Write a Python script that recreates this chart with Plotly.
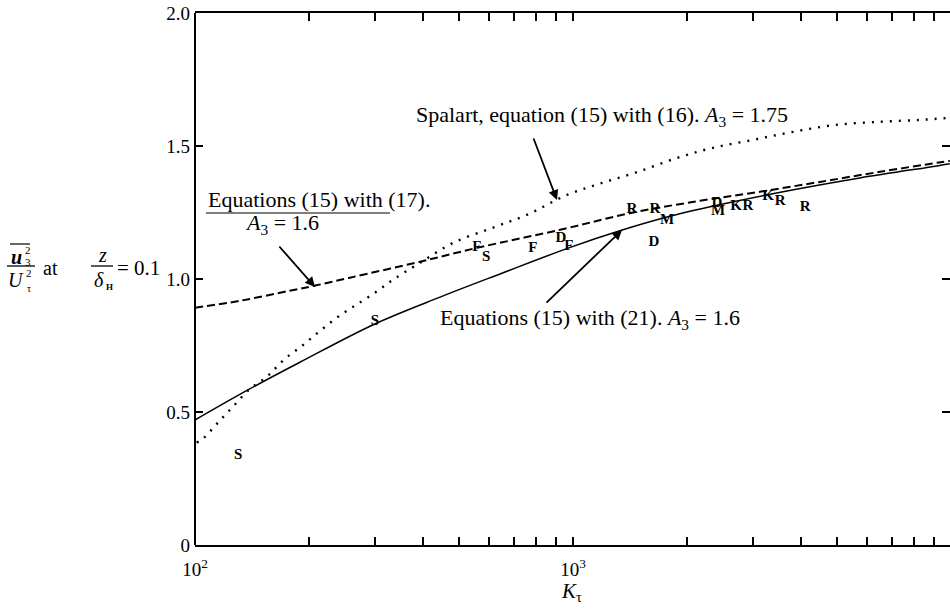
import plotly.graph_objects as go

FONT = "Liberation Serif"

# ---- data (K_tau, value) ----
solid_K = [100, 138, 190, 299, 445, 641, 975, 1349, 1774, 2421, 3681, 5741, 9183, 9931]
solid_y = [0.470, 0.583, 0.688, 0.831, 0.932, 1.019, 1.117, 1.184, 1.233, 1.278, 1.331, 1.380, 1.425, 1.433]

dashed_K = [100, 131.5, 178, 207.5, 257, 394, 557, 925, 1432, 2168, 3123, 4498, 6486, 9183, 9931]
dashed_y = [0.892, 0.918, 0.956, 0.975, 1.005, 1.065, 1.117, 1.185, 1.249, 1.294, 1.328, 1.365, 1.403, 1.437, 1.444]

dotted_K = [101, 105, 115, 126, 139, 155, 172, 192, 213, 239, 267, 299, 334, 394, 482, 611, 755,
            964, 1194, 1486, 1884, 2344, 2992, 3819, 4932, 6486, 8279, 9931]
dotted_y = [0.385, 0.400, 0.460, 0.520, 0.584, 0.633, 0.697, 0.749, 0.802, 0.858, 0.903, 0.948, 0.997,
            1.061, 1.136, 1.192, 1.241, 1.316, 1.361, 1.403, 1.455, 1.493, 1.523, 1.553, 1.579, 1.591,
            1.598, 1.606]

point_labels = ["S", "S", "F", "S", "F", "D", "F", "R", "R", "M", "D", "D", "M", "K", "R", "K", "R", "R"]
point_K = [130, 299, 557, 589, 783, 929, 975, 1432, 1648, 1774, 1637, 2404, 2420, 2700, 2904, 3281, 3530, 4113]
point_y = [0.338, 0.842, 1.120, 1.083, 1.117, 1.154, 1.124, 1.263, 1.263, 1.222, 1.139, 1.286, 1.256,
           1.274, 1.274, 1.312, 1.293, 1.271]

x_tick_vals = [100, 1000]
x_tick_text = ["10<sup>2</sup>", "10<sup>3</sup>"]
x_minor_vals = [200, 300, 400, 500, 600, 700, 800, 900, 2000, 3000, 4000, 5000, 6000, 7000, 8000, 9000]
y_tick_vals = [0, 0.5, 1.0, 1.5, 2.0]
y_tick_text = ["0", "0.5", "1.0", "1.5", "2.0"]

# ---- layout geometry (pixels) ----
W, H = 950, 612
L, R, T, B = 195, 0, 13, 67
PW = W - L - R
PH = H - T - B


def px(x):
    return (x - L) / PW


def py(y):
    return (H - B - y) / PH


fig = go.Figure()
fig.add_trace(go.Scatter(x=dotted_K, y=dotted_y, mode="lines", hoverinfo="skip",
                         line=dict(color="black", width=2.4, dash="2px,7px", shape="spline")))
fig.add_trace(go.Scatter(x=dashed_K, y=dashed_y, mode="lines", hoverinfo="skip",
                         line=dict(color="black", width=2, dash="8px,4px", shape="spline")))
fig.add_trace(go.Scatter(x=solid_K, y=solid_y, mode="lines", hoverinfo="skip",
                         line=dict(color="black", width=1.5, shape="spline")))
fig.add_trace(go.Scatter(x=point_K, y=point_y, mode="text", text=point_labels,
                         textposition="middle center", hoverinfo="skip",
                         textfont=dict(family=FONT, size=15, color="black", weight="bold")))

ann = []


def text(x, y, s, size=22, xanchor="center", **kw):
    ann.append(dict(x=px(x), y=py(y), xref="paper", yref="paper", text=s, showarrow=False,
                    xanchor=xanchor, yanchor="middle",
                    font=dict(family=FONT, size=size, color="black", **kw)))


def arrow(x0, y0, x1, y1):
    # tail (x0,y0) -> tip (x1,y1), pixels
    ann.append(dict(x=px(x1), y=py(y1), xref="paper", yref="paper", text="", showarrow=True,
                    ax=x0 - x1, ay=y0 - y1, arrowhead=2, arrowsize=1.1, arrowwidth=1.8,
                    arrowcolor="black", standoff=0))


text(790, 116, "Spalart, equation (15) with (16). <i>A</i><sub>3</sub> = 1.75", xanchor="right")
text(206, 200, "Equations (15) with (17).", xanchor="left")
text(243, 224, "<i>A</i><sub>3</sub> = 1.6", xanchor="left")
text(438, 319, "Equations (15) with (21). <i>A</i><sub>3</sub> = 1.6", xanchor="left")
arrow(533, 137, 557, 200)
arrow(278, 245, 315, 287)
arrow(545, 304, 622, 230)

# y-axis title pieces
text(16, 257, "<b><i>u</i></b>", size=20)
text(28, 250, "2", size=11)
text(28, 262, "3", size=11)
text(16, 280, "<i>U</i>", size=20)
text(29, 273, "2", size=11)
text(29, 288, "τ", size=10)
text(50, 268, "at", size=20)
text(102, 255, "<i>z</i>", size=20)
text(99, 280, "<i>δ</i>", size=20)
text(109, 287, "<b>H</b>", size=9)
text(115, 268, "= 0.1", size=21, xanchor="left")
# x-axis title
text(571, 592, "<i>K</i><sub>τ</sub>", size=21)

shapes = [
    # left axis line (the right frame edge is cut off in the original)
    dict(type="line", xref="paper", yref="paper", x0=0, x1=0, y0=0, y1=1,
         line=dict(color="black", width=2)),
    dict(type="line", xref="paper", yref="paper", x0=px(206), x1=px(390), y0=py(213), y1=py(213),
         line=dict(color="black", width=1.2)),
    dict(type="line", xref="paper", yref="paper", x0=px(10), x1=px(30), y0=py(244), y1=py(244),
         line=dict(color="black", width=1.2)),
    dict(type="line", xref="paper", yref="paper", x0=px(7), x1=px(35), y0=py(266), y1=py(266),
         line=dict(color="black", width=1.3)),
    dict(type="line", xref="paper", yref="paper", x0=px(91), x1=px(113), y0=py(266), y1=py(266),
         line=dict(color="black", width=1.3)),
]

fig.update_layout(
    width=W, height=H, margin=dict(l=L, r=R, t=T, b=B),
    paper_bgcolor="white", plot_bgcolor="white", showlegend=False,
    font=dict(family=FONT, color="black"),
    annotations=ann, shapes=shapes,
    xaxis=dict(type="log", range=[2, 2 + PW / 378], tickvals=x_tick_vals, ticktext=x_tick_text,
               ticks="inside", ticklen=8, tickwidth=1.5, tickcolor="black",
               showline=True, linecolor="black", linewidth=2, mirror="ticks",
               showgrid=False, zeroline=False, tickfont=dict(family=FONT, size=19, color="black"),
               ticklabelstandoff=6,
               minor=dict(tickvals=x_minor_vals, ticks="inside", ticklen=8, tickwidth=1.5,
                          tickcolor="black", showgrid=False)),
    yaxis=dict(range=[0, 2], tickvals=y_tick_vals, ticktext=y_tick_text,
               ticks="inside", ticklen=8, tickwidth=1.5, tickcolor="black",
               showline=False, mirror="ticks",
               showgrid=False, zeroline=False, tickfont=dict(family=FONT, size=19, color="black"),
               ticklabelstandoff=4),
)

fig.write_html("out.html")
